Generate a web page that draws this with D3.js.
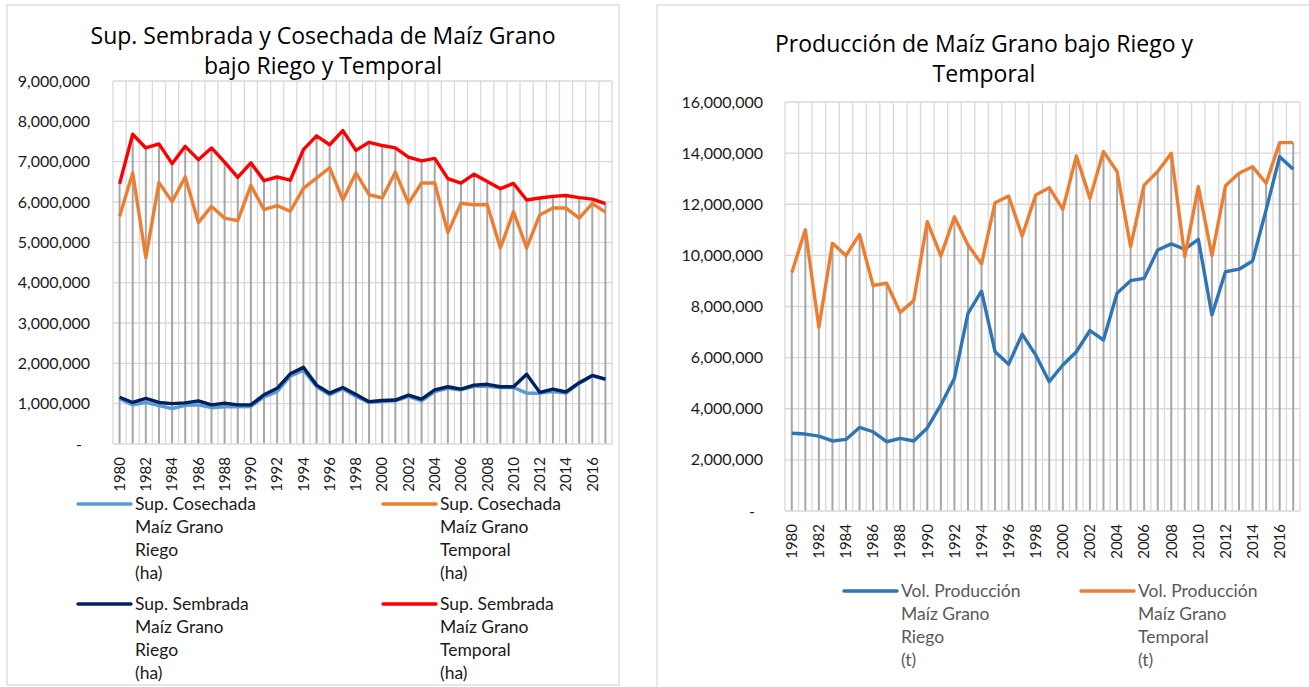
<!DOCTYPE html>
<html>
<head>
<meta charset="utf-8">
<script src="https://cdn.jsdelivr.net/npm/d3@7"></script>
<style>
  body { margin: 0; background: #fff; }
  svg { font-family: Lato, "Liberation Sans", sans-serif; display: block; }
</style>
</head>
<body>
<svg id="chart" width="1309" height="687"></svg>
<script>
// Years shared by both charts
const years = d3.range(1980, 2018);

// Left chart: surface (ha)
const cosechadaRiego = [1.12, 0.97, 1.03, 0.95, 0.88, 0.96, 0.97, 0.90, 0.92, 0.92, 0.93, 1.17, 1.30, 1.68, 1.83, 1.42, 1.22,
  1.37, 1.18, 1.03, 1.06, 1.07, 1.18, 1.07, 1.30, 1.38, 1.34, 1.43, 1.43, 1.40, 1.40, 1.26, 1.26, 1.30, 1.26, 1.50, 1.69, 1.60];
const cosechadaTemporal = [5.64, 6.72, 4.62, 6.48, 6.01, 6.62, 5.49, 5.89, 5.60, 5.54, 6.41, 5.81, 5.91, 5.77, 6.34, 6.59, 6.85,
  6.05, 6.72, 6.18, 6.10, 6.74, 5.97, 6.47, 6.47, 5.24, 5.97, 5.93, 5.93, 4.86, 5.76, 4.86, 5.68, 5.85, 5.85, 5.60, 5.96, 5.75];
const sembradaRiego = [1.16, 1.03, 1.13, 1.03, 1.00, 1.02, 1.07, 0.97, 1.01, 0.97, 0.97, 1.22, 1.38, 1.74, 1.90, 1.46, 1.26,
  1.40, 1.23, 1.05, 1.08, 1.09, 1.21, 1.11, 1.34, 1.42, 1.36, 1.46, 1.48, 1.42, 1.42, 1.73, 1.28, 1.36, 1.29, 1.52, 1.70, 1.61];
const sembradaTemporal = [6.45, 7.68, 7.34, 7.44, 6.95, 7.38, 7.05, 7.34, 6.99, 6.61, 6.97, 6.53, 6.62, 6.54, 7.30, 7.64, 7.42,
  7.77, 7.28, 7.48, 7.40, 7.34, 7.11, 7.02, 7.08, 6.58, 6.47, 6.69, 6.51, 6.33, 6.46, 6.05, 6.10, 6.14, 6.16, 6.11, 6.07, 5.96];

// Right chart: production (t)
const produccionRiego = [3.04, 3.01, 2.93, 2.74, 2.80, 3.27, 3.10, 2.71, 2.84, 2.74, 3.25, 4.15, 5.19, 7.73, 8.60, 6.23, 5.74,
  6.92, 6.10, 5.06, 5.71, 6.23, 7.06, 6.69, 8.52, 9.01, 9.10, 10.21, 10.45, 10.24, 10.63, 7.67, 9.36, 9.46, 9.78, 11.78, 13.86, 13.37];
const produccionTemporal = [9.32, 11.00, 7.19, 10.47, 9.99, 10.82, 8.82, 8.91, 7.77, 8.23, 11.32, 9.98, 11.51, 10.41, 9.67, 12.06, 12.32,
  10.76, 12.36, 12.65, 11.80, 13.89, 12.23, 14.06, 13.28, 10.34, 12.75, 13.28, 13.99, 9.95, 12.69, 9.99, 12.72, 13.21, 13.47, 12.82, 14.41, 14.41];

const leftTitle = ["Sup. Sembrada y Cosechada de Maíz Grano", "bajo Riego y Temporal"];
const rightTitle = ["Producción de Maíz Grano bajo Riego y", "Temporal"];

const svg = d3.select("#chart");
const fmt = d3.format(",");

function drawChart(cfg) {
  const g = svg.append("g");

  // Outer frame
  g.append("rect")
    .attr("x", cfg.frame[0]).attr("y", cfg.frame[1])
    .attr("width", cfg.frame[2]).attr("height", cfg.frame[3])
    .attr("fill", "#fff").attr("stroke", "#d9d9d9").attr("stroke-width", 1.3);

  // Title
  cfg.title.forEach((t, i) => {
    g.append("text")
      .attr("x", cfg.titleX).attr("y", cfg.titleY + i * 30)
      .attr("text-anchor", "middle")
      .attr("font-family", "'Open Sans', sans-serif")
      .attr("font-size", 23).attr("fill", "#000")
      .text(t);
  });

  const x = d3.scaleBand().domain(years).range([cfg.left, cfg.right]);
  const y = d3.scaleLinear().domain([0, cfg.yMax]).range([cfg.bottom, cfg.top]);

  // Horizontal gridlines
  g.append("g").selectAll("line")
    .data(d3.range(cfg.yStep, cfg.yMax + 1, cfg.yStep))
    .enter().append("line")
    .attr("x1", cfg.left).attr("x2", cfg.right)
    .attr("y1", d => y(d)).attr("y2", d => y(d))
    .attr("stroke", "#d9d9d9").attr("stroke-width", 1.3);

  // Vertical gridlines at category boundaries
  g.append("g").selectAll("line")
    .data(years.concat([null]))
    .enter().append("line")
    .attr("x1", (d, i) => cfg.left + i * x.bandwidth())
    .attr("x2", (d, i) => cfg.left + i * x.bandwidth())
    .attr("y1", cfg.top).attr("y2", cfg.bottom)
    .attr("stroke", "#d9d9d9").attr("stroke-width", 1.3);

  // Drop lines from the highest series to the axis
  g.append("g").selectAll("line")
    .data(years)
    .enter().append("line")
    .attr("x1", d => x(d) + x.bandwidth() / 2)
    .attr("x2", d => x(d) + x.bandwidth() / 2)
    .attr("y1", (d, i) => y(d3.max(cfg.series, s => s.values[i]) * 1e6))
    .attr("y2", cfg.bottom)
    .attr("stroke", "#a6a6a6").attr("stroke-width", 2);

  // Axis line
  g.append("line")
    .attr("x1", cfg.left).attr("x2", cfg.right)
    .attr("y1", cfg.bottom).attr("y2", cfg.bottom)
    .attr("stroke", "#d9d9d9").attr("stroke-width", 1.3);

  // Y labels
  g.append("g").selectAll("text")
    .data(d3.range(0, cfg.yMax + 1, cfg.yStep))
    .enter().append("text")
    .attr("x", d => d === 0 ? cfg.labelX - 8 : cfg.labelX)
    .attr("y", d => y(d))
    .attr("dy", "0.35em")
    .attr("text-anchor", "end")
    .attr("font-size", 16).attr("fill", "#1a1a1a")
    .text(d => d === 0 ? "-" : fmt(d));

  // X labels, every second year
  g.append("g").selectAll("text")
    .data(years.filter(d => d % 2 === 0))
    .enter().append("text")
    .attr("transform", d => `translate(${x(d) + x.bandwidth() / 2},${cfg.bottom + 13}) rotate(-90)`)
    .attr("dy", "0.35em")
    .attr("text-anchor", "end")
    .attr("font-size", 15).attr("fill", "#1a1a1a")
    .text(d => d);

  // Series lines
  const line = d3.line()
    .x((d, i) => x(years[i]) + x.bandwidth() / 2)
    .y(d => y(d * 1e6));

  cfg.series.forEach(s => {
    g.append("path")
      .datum(s.values)
      .attr("d", line)
      .attr("fill", "none")
      .attr("stroke", s.color)
      .attr("stroke-width", 3.4)
      .attr("stroke-linejoin", "round");
  });

  // Legend
  cfg.series.forEach(s => {
    const lg = g.append("g");
    lg.append("line")
      .attr("x1", s.lx).attr("x2", s.lx + 53)
      .attr("y1", s.ly).attr("y2", s.ly)
      .attr("stroke", s.color).attr("stroke-width", 3.4)
      .attr("stroke-linecap", "round");
    s.label.forEach((t, i) => {
      lg.append("text")
        .attr("x", s.lx + 57).attr("y", s.ly + i * 23)
        .attr("dy", "0.35em")
        .attr("font-size", 17.5).attr("fill", cfg.legendColor)
        .text(t);
    });
  });
}

drawChart({
  frame: [7, 5, 612, 680],
  title: leftTitle, titleX: 323, titleY: 44,
  left: 113, right: 612, top: 81, bottom: 444,
  yMax: 9e6, yStep: 1e6, labelX: 90,
  legendColor: "#1a1a1a",
  series: [
    { values: cosechadaRiego, color: "#5b9bd5", lx: 78, ly: 504, label: ["Sup. Cosechada", "Maíz Grano", "Riego", "(ha)"] },
    { values: cosechadaTemporal, color: "#ed7d31", lx: 383, ly: 504, label: ["Sup. Cosechada", "Maíz Grano", "Temporal", "(ha)"] },
    { values: sembradaRiego, color: "#002060", lx: 78, ly: 604, label: ["Sup. Sembrada", "Maíz Grano", "Riego", "(ha)"] },
    { values: sembradaTemporal, color: "#ff0000", lx: 383, ly: 604, label: ["Sup. Sembrada", "Maíz Grano", "Temporal", "(ha)"] }
  ]
});

drawChart({
  frame: [657, 5, 670, 690],
  title: rightTitle, titleX: 984, titleY: 52,
  left: 785, right: 1300, top: 102, bottom: 511,
  yMax: 16e6, yStep: 2e6, labelX: 763,
  legendColor: "#595959",
  series: [
    { values: produccionRiego, color: "#2e75b6", lx: 844, ly: 591, label: ["Vol. Producción", "Maíz Grano", "Riego", "(t)"] },
    { values: produccionTemporal, color: "#ed7d31", lx: 1081, ly: 591, label: ["Vol. Producción", "Maíz Grano", "Temporal", "(t)"] }
  ]
});
</script>
</body>
</html>
